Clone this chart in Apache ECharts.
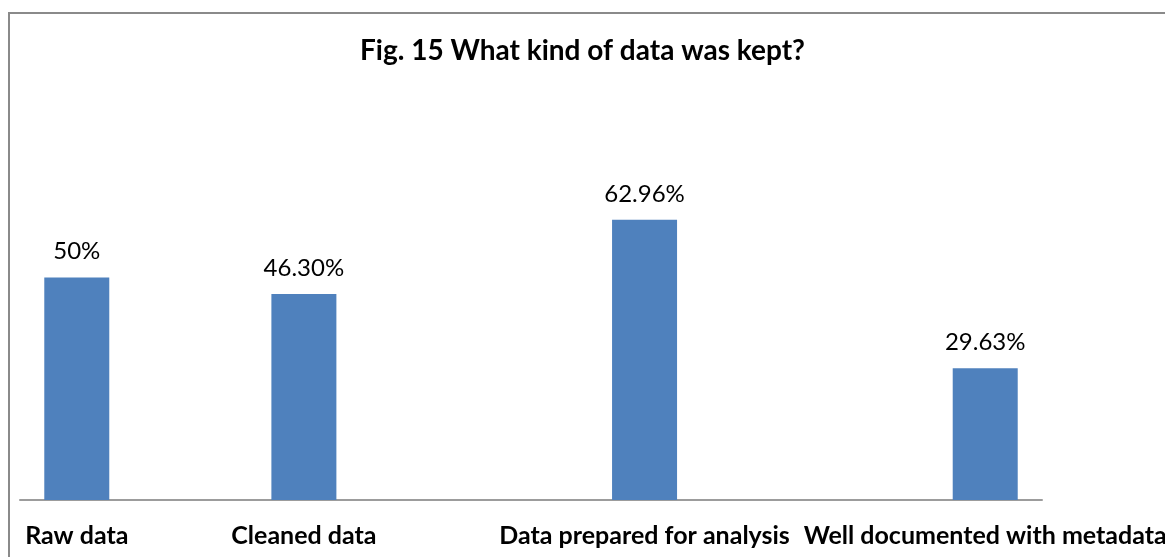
<!DOCTYPE html>
<html>
<head>
<meta charset="utf-8">
<script src="https://cdn.jsdelivr.net/npm/echarts@6/dist/echarts.min.js"></script>
<style>
  html, body { margin: 0; padding: 0; background: #ffffff; }
  #chart { width: 1165px; height: 557px; }
</style>
</head>
<body>
<div id="chart"></div>
<script>
// 9 category slots; the empty ones keep the uneven spacing of the original sheet
const categories = ['Raw data', '', 'Cleaned data', '', '', 'Data prepared for analysis', '', '', 'Well documented with metadata']
const values = [50, '-', 46.30, '-', '-', 62.96, '-', '-', 29.63]
const valueLabels = ['50%', '', '46.30%', '', '', '62.96%', '', '', '29.63%']

const FONT = 'Lato, "Liberation Sans", sans-serif'
const COLORS = {
  bar: '#4f81bd',
  axis: '#9c9c9c',
  border: '#8a8a8a',
  text: '#000000',
}

const chart = echarts.init(document.getElementById('chart'), null, { renderer: 'canvas' })

chart.setOption({
  animation: false,
  backgroundColor: '#ffffff',
  title: {
    text: 'Fig. 15 What kind of data was kept?',
    left: 'center',
    top: 32,
    textStyle: { fontFamily: FONT, fontSize: 28, fontWeight: 'bold', color: COLORS.text },
  },
  graphic: [
    {
      type: 'rect',
      shape: { x: 9, y: 13, width: 1300, height: 1000 },
      style: { fill: 'none', stroke: COLORS.border, lineWidth: 2 },
      silent: true,
    },
  ],
  // labels run off the right edge in the original, so don't let the grid shrink
  grid: { left: 20, right: 123, top: 55, bottom: 57, containLabel: false, outerBoundsMode: 'none' },
  xAxis: {
    type: 'category',
    data: categories,
    axisLine: { lineStyle: { color: COLORS.axis, width: 2 } },
    axisTick: { show: false },
    axisLabel: {
      interval: 0,
      margin: 23,
      color: COLORS.text,
      fontFamily: FONT,
      fontSize: 25,
      fontWeight: 'bold',
    },
  },
  yAxis: {
    type: 'value',
    min: 0,
    max: 100,
    show: false,
    splitLine: { show: false },
  },
  series: [
    {
      type: 'bar',
      data: values,
      barWidth: 65,
      itemStyle: { color: COLORS.bar },
      label: {
        show: true,
        position: 'top',
        distance: 14,
        color: COLORS.text,
        fontFamily: FONT,
        fontSize: 24,
        formatter: (p) => valueLabels[p.dataIndex],
      },
    },
  ],
})
</script>
</body>
</html>
